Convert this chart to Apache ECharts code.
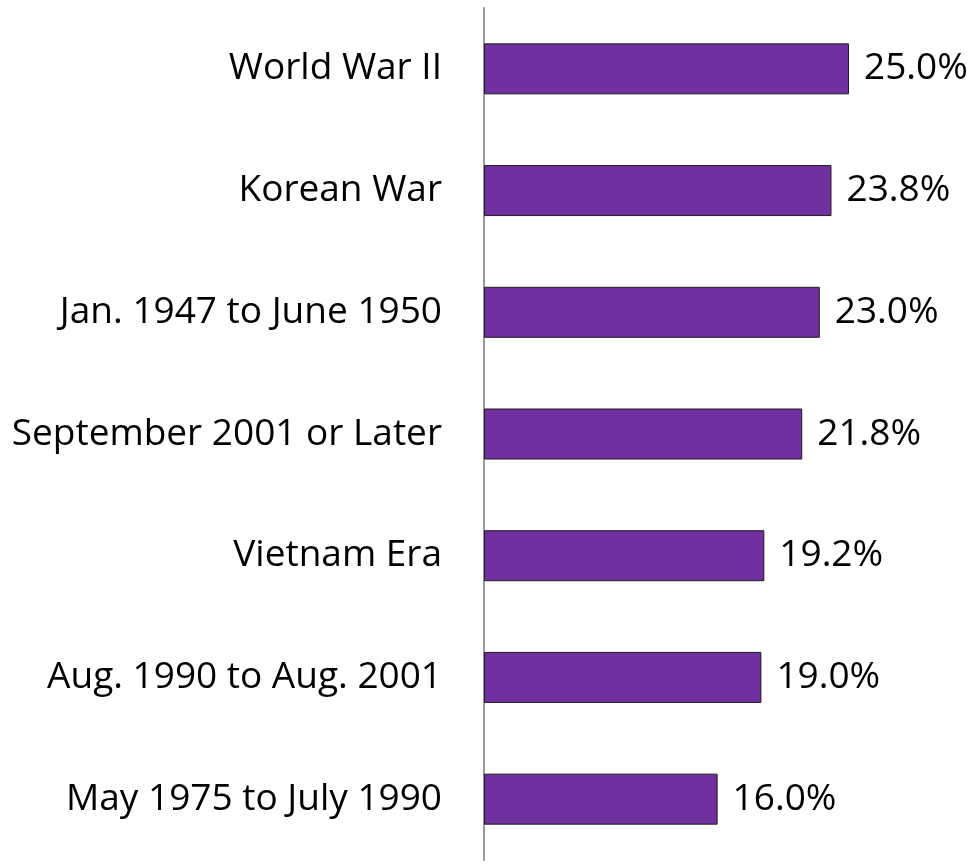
<!DOCTYPE html>
<html>
<head>
<meta charset="utf-8">
<script src="https://cdn.jsdelivr.net/npm/echarts@6/dist/echarts.min.js"></script>
<style>
    html, body { margin: 0; padding: 0; background: #fff; }
    #J_chart { width: 975px; height: 867px; }
</style>
</head>
<body>
<div id="J_chart"></div>
<script>
// 数据，从上到下
const categories = [
    'World War II',
    'Korean War',
    'Jan. 1947 to June 1950',
    'September 2001 or Later',
    'Vietnam Era',
    'Aug. 1990 to Aug. 2001',
    'May 1975 to July 1990'
];
const values = [25.0, 23.8, 23.0, 21.8, 19.2, 19.0, 16.0];

const FONT = 'Open Sans';

function initBar() {
    let options = {
        animation: false,
        grid: {
            left: 484,
            top: 8,
            width: 365,
            bottom: 7
        },
        xAxis: {
            type: 'value',
            min: 0,
            max: 25,
            show: false
        },
        yAxis: {
            type: 'category',
            inverse: true,
            data: categories,
            axisLine: {
                show: true,
                lineStyle: {
                    color: '#999',
                    width: 2
                }
            },
            axisTick: { show: false },
            axisLabel: {
                margin: 42,
                color: '#000',
                fontSize: 37,
                fontFamily: FONT
            }
        },
        series: [{
            type: 'bar',
            barWidth: 51,
            data: values,
            itemStyle: {
                color: '#7030A0',
                borderColor: '#231A1A',
                borderWidth: 1
            },
            label: {
                show: true,
                position: 'right',
                distance: 15,
                color: '#000',
                fontSize: 37,
                fontFamily: FONT,
                formatter: function (param) {
                    return param.value.toFixed(1) + '%';
                }
            }
        }]
    };
    let chart = echarts.init(document.getElementById('J_chart'));
    chart.setOption(options);
}

initBar();
</script>
</body>
</html>
